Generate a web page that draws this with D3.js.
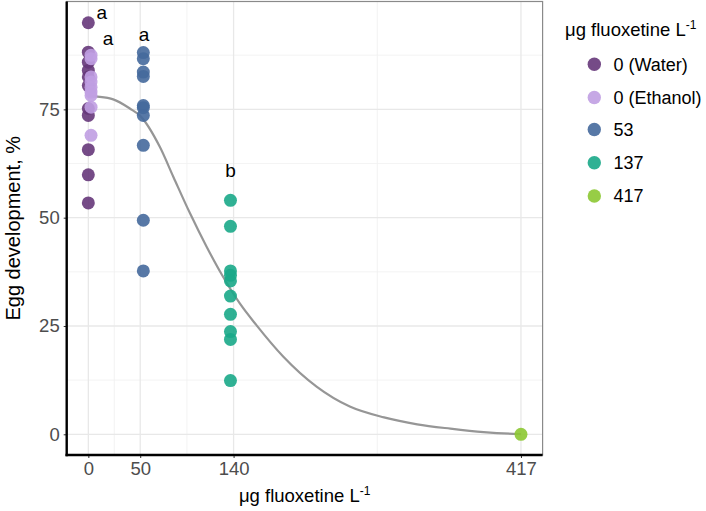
<!DOCTYPE html>
<html><head><meta charset="utf-8">
<script src="https://cdn.jsdelivr.net/npm/d3@7"></script>
<style>body{margin:0;background:#fff}svg{display:block}text{font-family:"Liberation Sans",Arial,Helvetica,sans-serif}</style>
</head><body><svg id="c" width="706" height="511"></svg>
<script>
// ---- data ----
const groups = ["0 (Water)", "0 (Ethanol)", "53", "137", "417"];
const groupColors = ["#66377a", "#c09fe2", "#45699c", "#1aa888", "#8cc832"];
const groupX = [0, 2.6, 53, 137, 417];
const waterVals = [95, 88.2, 85.9, 84, 82.5, 80.5, 75.2, 73.6, 65.7, 59.9, 53.4];
const ethanolVals = [87.5, 86.7, 82.5, 81.3, 80.1, 79, 78.2, 75.5, 69];
const dose53Vals = [88.1, 86.7, 83.6, 82.6, 75.9, 75.4, 73.6, 66.7, 49.4, 37.7];
const dose137Vals = [54, 48, 37.7, 36.7, 35.4, 31.9, 27.7, 23.7, 21.9, 12.4];
const dose417Vals = [0];
const curveX = [0, 6.5, 24, 40, 50, 69, 82, 98, 114, 130, 146, 162, 188, 220, 252, 285, 317, 349, 381, 410, 417];
const curveY = [78.2, 78, 77.3, 75.2, 73.5, 66.3, 59.4, 51.0, 43.3, 36.3, 30.2, 25.2, 17.9, 11.0, 6.4, 3.9, 2.3, 1.3, 0.5, 0.1, 0.05];
const xTicks = [0, 50, 140, 417];
const xMinor = [25, 95, 278.5];
const yTicks = [0, 25, 50, 75];
const yMinor = [12.5, 37.5, 62.5, 87.5];
const letterText = ["a", "a", "a", "b"];
const letterX = [12.9, 19, 53.7, 137];
const letterY = [95.9, 89.8, 90.7, 59.4];

const valueSets = [waterVals, ethanolVals, dose53Vals, dose137Vals, dose417Vals];

const svg = d3.select("#c");
const L = 66.7, R = 542.6, T = 1.5, B = 455;
const x = d3.scaleLinear().domain([-20.85, 437.85]).range([L, R]);
const y = d3.scaleLinear().domain([-4.78, 99.9]).range([B, T]);

// grid
const g = svg.append("g");
g.selectAll(".mx").data(xMinor).join("line").attr("x1", d => x(d)).attr("x2", d => x(d)).attr("y1", T).attr("y2", B).attr("stroke", "#f0f0f0").attr("stroke-width", 0.8);
g.selectAll(".my").data(yMinor).join("line").attr("y1", d => y(d)).attr("y2", d => y(d)).attr("x1", L).attr("x2", R).attr("stroke", "#f0f0f0").attr("stroke-width", 0.8);
g.selectAll(".Mx").data(xTicks).join("line").attr("x1", d => x(d)).attr("x2", d => x(d)).attr("y1", T).attr("y2", B).attr("stroke", "#e8e8e8").attr("stroke-width", 1.3);
g.selectAll(".My").data(yTicks).join("line").attr("y1", d => y(d)).attr("y2", d => y(d)).attr("x1", L).attr("x2", R).attr("stroke", "#e8e8e8").attr("stroke-width", 1.3);

// panel border (top/right grey)
svg.append("rect").attr("x", L).attr("y", T).attr("width", R - L).attr("height", B - T).attr("fill", "none").attr("stroke", "#8a8a8a").attr("stroke-width", 1.2);

// curve
const line = d3.line().x(d => x(d[0])).y(d => y(d[1])).curve(d3.curveMonotoneX);
svg.append("path").datum(curveX.map((v, i) => [v, curveY[i]])).attr("d", line).attr("fill", "none").attr("stroke", "#969696").attr("stroke-width", 2.2);

// points
valueSets.forEach((vals, gi) => {
  svg.append("g").selectAll("circle").data(vals).join("circle")
    .attr("cx", x(groupX[gi])).attr("cy", d => y(d)).attr("r", 6.5)
    .attr("fill", groupColors[gi]).attr("fill-opacity", 0.9);
});

// letters
svg.append("g").selectAll("text").data(letterText).join("text")
  .attr("x", (d, i) => x(letterX[i])).attr("y", (d, i) => y(letterY[i]))
  .attr("text-anchor", "middle").attr("font-size", 19).attr("fill", "#000").text(d => d);

// axes
const xAxis = svg.append("g").attr("transform", `translate(0,${B})`)
  .call(d3.axisBottom(x).tickValues(xTicks).tickSize(3).tickPadding(4).tickFormat(d3.format("d")));
const yAxis = svg.append("g").attr("transform", `translate(${L},0)`)
  .call(d3.axisLeft(y).tickValues(yTicks).tickSize(3).tickPadding(4).tickFormat(d3.format("d")));
[xAxis, yAxis].forEach(a => {
  a.select(".domain").remove();
  a.selectAll(".tick line").attr("stroke", "#333").attr("stroke-width", 1);
  a.selectAll(".tick text").attr("fill", "#4d4d4d").attr("font-size", 18.5).attr("font-family", '"Liberation Sans",Arial,sans-serif');
});
svg.append("line").attr("x1", L).attr("x2", L).attr("y1", T).attr("y2", B + 1.2).attr("stroke", "#000").attr("stroke-width", 2.4);
svg.append("line").attr("x1", L - 1.2).attr("x2", R).attr("y1", B).attr("y2", B).attr("stroke", "#000").attr("stroke-width", 2.4);

// axis titles
const xt = svg.append("text").attr("x", (L + R) / 2).attr("y", 502).attr("text-anchor", "middle").attr("font-size", 18.5).attr("fill", "#000");
xt.append("tspan").text("μg fluoxetine L");
xt.append("tspan").attr("font-size", 12).attr("dy", -7).text("-1");
svg.append("text").attr("transform", `translate(20,${(T + B) / 2}) rotate(-90)`).attr("text-anchor", "middle").attr("font-size", 20).attr("fill", "#000").text("Egg development, %");

// legend
const lt = svg.append("text").attr("x", 565).attr("y", 36).attr("font-size", 18.5).attr("fill", "#000");
lt.append("tspan").text("μg fluoxetine L");
lt.append("tspan").attr("font-size", 12).attr("dy", -7).text("-1");
const keyY = [64.3, 97.5, 129.5, 162.7, 196];
const lg = svg.append("g").selectAll("g").data(groups).join("g");
lg.append("circle").attr("cx", 594.3).attr("cy", (d, i) => keyY[i]).attr("r", 6.7).attr("fill", (d, i) => groupColors[i]).attr("fill-opacity", 0.9);
lg.append("text").attr("x", 613.5).attr("y", (d, i) => keyY[i] + 6.3).attr("font-size", 18).attr("fill", "#000").text(d => d);
</script></body></html>
